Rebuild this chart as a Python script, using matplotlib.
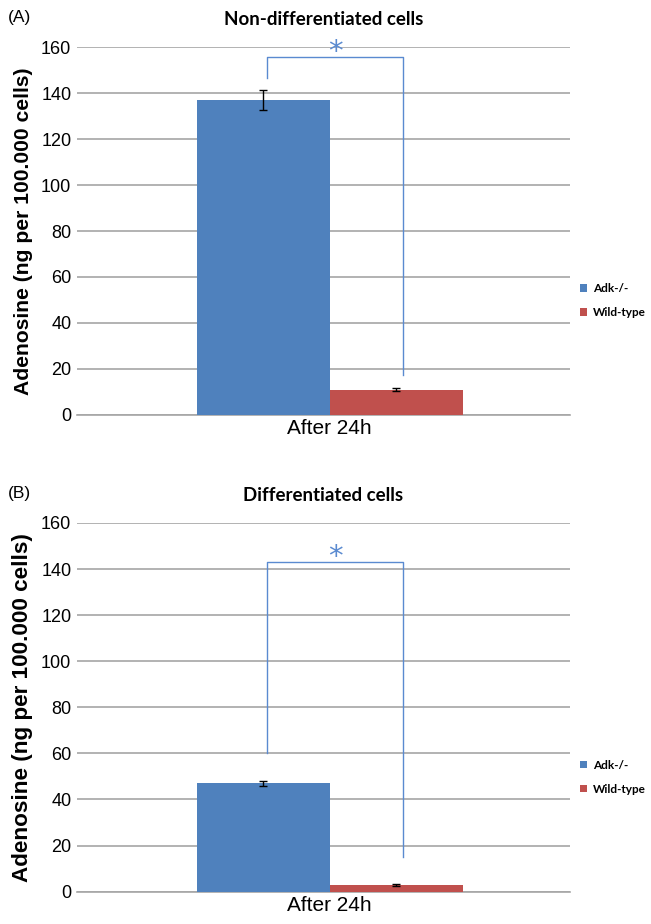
import matplotlib.pyplot as plt
import numpy as np

# data
groups = ["Adk-/-", "Wild-type"]
category = "After 24h"
panels = ["(A)", "(B)"]
titles = ["Non-differentiated cells", "Differentiated cells"]
adk_vals = [137, 47]
adk_err = [4.5, 1.0]
wt_vals = [11, 3]
wt_err = [0.7, 0.4]
# significance brackets: (left leg bottom, top, right leg bottom)
brackets = [(146.5, 155.5, 17.5), (60, 143, 15)]

blue = "#4F81BD"
red = "#C0504D"
sig_col = "#5A8AD0"
grid_col = "#A6A6A6"

fig = plt.figure(figsize=(6.51, 9.24), dpi=100)
ax_pos = [[0.118, 0.551, 0.757, 0.398], [0.118, 0.035, 0.757, 0.399]]
ylab_size = [15.2, 16.2]

width = 0.27
for i in range(2):
    ax = fig.add_axes(ax_pos[i])
    b1 = ax.bar(-width / 2, adk_vals[i], width, color=blue, yerr=adk_err[i],
                error_kw=dict(ecolor="black", elinewidth=1, capsize=3, capthick=1), zorder=3)
    b2 = ax.bar(width / 2, wt_vals[i], width, color=red, yerr=wt_err[i],
                error_kw=dict(ecolor="black", elinewidth=1, capsize=3, capthick=1), zorder=3)
    ax.set_xlim(-0.513, 0.487)
    ax.set_ylim(0, 160)
    ax.set_yticks(np.arange(0, 161, 20))
    ax.yaxis.grid(True, color=grid_col, linewidth=1.2, zorder=0)
    ax.set_axisbelow(True)
    for s in ["top", "right", "left"]:
        ax.spines[s].set_visible(False)
    ax.spines["bottom"].set_color(grid_col)
    ax.spines["bottom"].set_linewidth(1.2)
    ax.tick_params(axis="y", length=0, labelsize=13, pad=4)
    ax.tick_params(axis="x", length=0, labelsize=15, pad=3)
    for lab in ax.get_yticklabels():
        lab.set_family("Liberation Sans")
    ax.set_xticks([0])
    ax.set_xticklabels([category], family="Liberation Sans")
    ax.set_ylabel("Adenosine (ng per 100.000 cells)", fontsize=ylab_size[i], fontweight="bold",
                  family="Liberation Sans", labelpad=6)
    ax.set_title(titles[i], fontsize=13.5, fontweight="bold", family="Lato", pad=16)
    ax.text(-0.14, 1.08, panels[i], transform=ax.transAxes, fontsize=12.5,
            family="Liberation Sans", ha="left", va="center")

    # significance bracket
    xl = -width / 2 + 0.008
    xr = width / 2 + 0.014
    lo_l, top, lo_r = brackets[i]
    ax.plot([xl, xl, xr, xr], [lo_l, top, top, lo_r], color=sig_col, linewidth=1, zorder=4,
            clip_on=False)
    ax.text((xl + xr) / 2, top - 1.3, "*", color=sig_col, fontsize=21, ha="center",
            va="baseline", clip_on=False)

    ax.legend([b1, b2], groups, loc="center left", bbox_to_anchor=(1.005, 0.31), frameon=False,
              prop=dict(family="Lato", size=8.5, weight="bold"), handlelength=0.6,
              handleheight=0.6, handletextpad=0.5, labelspacing=1.1, borderaxespad=0.3)

plt.savefig("out.png", dpi=100)
